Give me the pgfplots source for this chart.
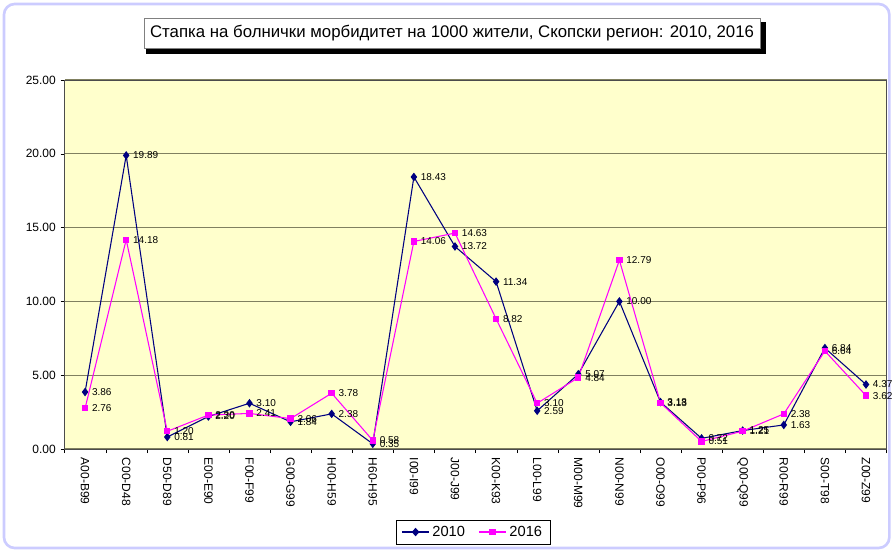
\documentclass[border=0pt]{standalone}
\usepackage{pgfplots}
\pgfplotsset{compat=1.18}
\usepackage{fontspec}
\setmainfont{Liberation Sans}
\definecolor{plotbg}{RGB}{255,255,204}
\definecolor{gridc}{RGB}{128,128,96}
\definecolor{frame}{RGB}{204,204,255}
\definecolor{navy}{RGB}{0,0,128}
\definecolor{mag}{RGB}{255,0,255}
\begin{document}
\begin{tikzpicture}
\path[use as bounding box] (0,0) rectangle (669pt,412.5pt);
\draw[frame, line width=2pt, rounded corners=8pt] (3pt,1.5pt) rectangle (667pt,409.5pt);
\begin{axis}[
  at={(48.4pt,75.75pt)}, anchor=south west,
  scale only axis, width=616.5pt, height=276.75pt,
  xmin=-0.5, xmax=19.5, ymin=0, ymax=25,
  axis background/.style={fill=plotbg},
  axis line style={gray!60!black},
  xtick={0,...,19},
  xticklabels={A00-B99,C00-D48,D50-D89,E00-E90,F00-F99,G00-G99,H00-H59,H60-H95,I00-I99,J00-J99,K00-K93,L00-L99,M00-M99,N00-N99,O00-O99,P00-P96,Q00-Q99,R00-R99,S00-T98,Z00-Z99},
  x tick label style={rotate=-90, anchor=west, font=\fontsize{9}{10}\selectfont},
  major x tick style={draw=none},
  minor xtick={-0.5,0.5,...,19.5},
  minor x tick style={black},
  minor tick length=3pt,
  ytick={0,5,10,15,20,25},
  yticklabel style={font=\fontsize{9}{10}\selectfont, /pgf/number format/.cd, fixed, fixed zerofill, precision=2},
  /pgf/number format/assume math mode=true,
  y tick style={black},
  tick align=outside, major tick length=3pt,
  xtick pos=bottom, ytick pos=left,
  ymajorgrids, grid style={gridc, line width=1pt},
  every node near coord/.append style={anchor=west, xshift=1.5pt, font=\fontsize{7.5}{8}\selectfont, black},
  nodes near coords={\pgfmathprintnumber[fixed,fixed zerofill,precision=2]{\pgfplotspointmeta}},
  point meta=y,
  clip=false,
  legend style={at={(0.497,-0.225)}, anchor=center, legend columns=2, draw=black, fill=white,
    font=\fontsize{11}{12}\selectfont, inner xsep=4pt, inner ysep=2.5pt,
    /tikz/every even column/.append style={column sep=8pt}},
  legend image post style={xscale=1.2},
]
\addplot[navy, line width=0.8pt, mark=diamond*, mark size=2.6pt, mark options={fill=navy}] coordinates {
(0,3.86) (1,19.89) (2,0.81) (3,2.20) (4,3.10) (5,1.84) (6,2.38) (7,0.35) (8,18.43) (9,13.72)
(10,11.34) (11,2.59) (12,5.07) (13,10.00) (14,3.18) (15,0.72) (16,1.25) (17,1.63) (18,6.84) (19,4.37)};
\addlegendentry{2010}
\addplot[mag, line width=0.8pt, mark=square*, mark size=2pt, mark options={fill=mag}] coordinates {
(0,2.76) (1,14.18) (2,1.20) (3,2.30) (4,2.41) (5,2.06) (6,3.78) (7,0.58) (8,14.06) (9,14.63)
(10,8.82) (11,3.10) (12,4.84) (13,12.79) (14,3.13) (15,0.51) (16,1.21) (17,2.38) (18,6.64) (19,3.62)};
\addlegendentry{2016}
\end{axis}
\fill[black] (109.5pt,372pt) rectangle (574.5pt,396pt);
\node[draw=gray, fill=white, line width=0.4pt, minimum width=462pt, minimum height=23pt, inner sep=0pt,
  font=\fontsize{12.6}{14}\selectfont] at (339pt,387.5pt)
  {Стапка на болнички морбидитет на 1000 жители, Скопски регион: 2010, 2016};
\end{tikzpicture}
\end{document}
